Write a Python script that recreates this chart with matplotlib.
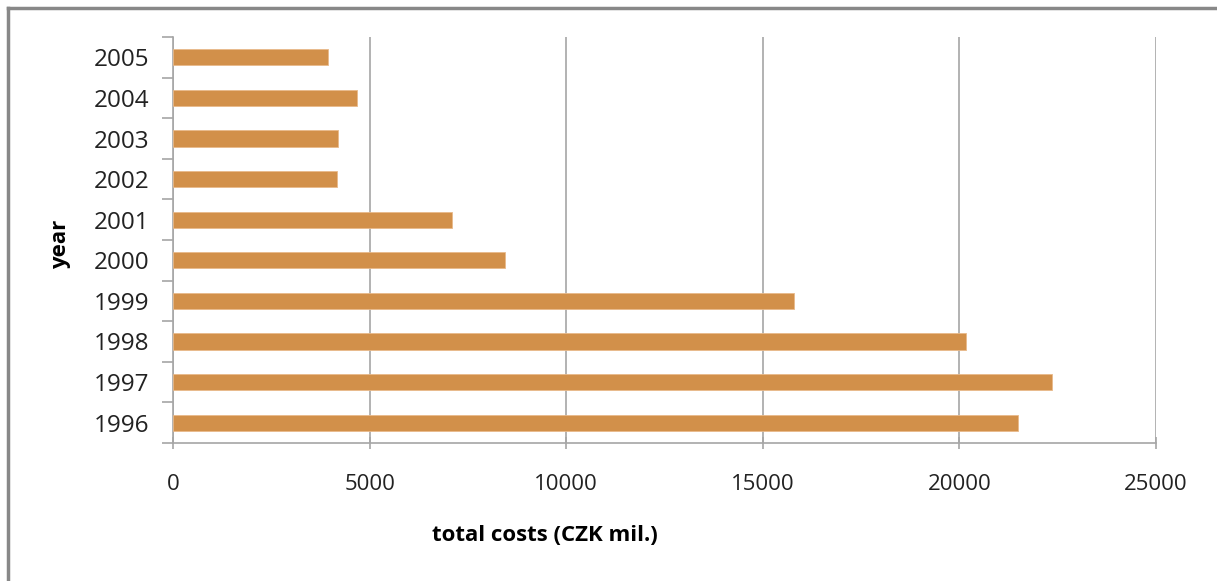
import matplotlib.pyplot as plt
from matplotlib.lines import Line2D

years = ['1996', '1997', '1998', '1999', '2000', '2001', '2002', '2003', '2004', '2005']
costs = [21500, 22350, 20160, 15800, 8435, 7095, 4165, 4195, 4690, 3935]
xticks = [0, 5000, 10000, 15000, 20000, 25000]

bar_color = '#d2904a'
grid_color = '#a6a6a6'

plt.rcParams['font.family'] = ['Open Sans', 'DejaVu Sans']

fig = plt.figure(figsize=(12.17, 5.81), dpi=100)
ax = fig.add_axes([173 / 1217, 1 - 443 / 581, 983 / 1217, 406 / 581])

pos = list(range(len(years)))
ax.barh(pos, costs, height=0.4, color=bar_color, edgecolor='#e8b98a', linewidth=0.6, zorder=3)

ax.set_xlim(0, 25000)
ax.set_ylim(-0.5, len(years) - 0.5)
ax.set_xticks(xticks)
ax.set_xticklabels([str(t) for t in xticks], fontsize=16, color='#222222')
ax.xaxis.grid(True, color=grid_color, linewidth=1.2, zorder=0)

# category labels at centres, tick marks at the boundaries
ax.set_yticks([p - 0.5 for p in pos] + [len(years) - 0.5])
ax.set_yticklabels([])
ax.set_yticks(pos, minor=True)
ax.set_yticklabels(years, minor=True, fontsize=17.5, color='#222222')
ax.tick_params(axis='y', which='major', length=8, color=grid_color, width=1.2)
ax.tick_params(axis='y', which='minor', length=0, pad=17)
ax.tick_params(axis='x', length=8, color=grid_color, width=1.2, pad=18, direction='inout')

for s in ['top', 'right']:
    ax.spines[s].set_visible(False)
for s in ['left', 'bottom']:
    ax.spines[s].set_color(grid_color)
    ax.spines[s].set_linewidth(1.2)

ax.set_xlabel('total costs (CZK mil.)', fontsize=16, fontweight='bold')
ax.set_ylabel('year', fontsize=16, fontweight='bold')
ax.xaxis.set_label_coords(0.378, -0.202)
ax.yaxis.set_label_coords(-0.104, 0.488)

# chart frame
fig.add_artist(Line2D([8 / 1217, 1.0], [1 - 8 / 581, 1 - 8 / 581], color='#888888', linewidth=2.5))
fig.add_artist(Line2D([8 / 1217, 8 / 1217], [0.0, 1 - 8 / 581], color='#888888', linewidth=2.5))

fig.savefig('out.png', dpi=100, facecolor='white')
